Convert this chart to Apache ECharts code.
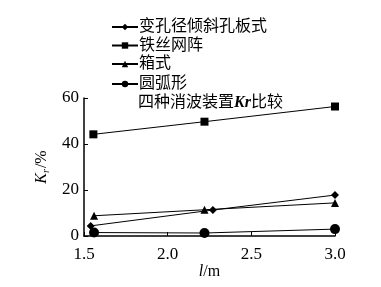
<!DOCTYPE html>
<html><head><meta charset="utf-8">
<script src="https://cdn.jsdelivr.net/npm/echarts@6/dist/echarts.min.js"></script>
<style>html,body{margin:0;padding:0;background:#fff}#c{width:381px;height:287px}</style>
</head><body><div id="c"></div>
<script>
const seriesNames = ['变孔径倾斜孔板式', '铁丝网阵', '箱式', '圆弧形'];
const xTicks = [1.5, 2.0, 2.5, 3.0];
const yTicks = [0, 20, 40, 60];
const diamondData = [[1.54, 4.4], [2.27, 11.3], [3.0, 17.8]];
const squareData = [[1.556, 44.2], [2.22, 49.7], [3.0, 56.3]];
const triangleData = [[1.56, 8.8], [2.22, 11.4], [3.0, 14.4]];
const circleData = [[1.56, 1.5], [2.22, 1.3], [3.0, 3.0]];

const FONT = "'Liberation Serif', 'Noto Sans CJK SC', serif";
const chart = echarts.init(document.getElementById('c'));
function mk(name, data, symbol, size) {
  return {
    name, type: 'line', data, symbol, symbolSize: size,
    lineStyle: { color: '#000', width: 1 },
    itemStyle: { color: '#000' },
    emphasis: { disabled: true }, animation: false
  };
}
const legendTops = [14, 32.5, 51, 71];
chart.setOption({
  animation: false,
  backgroundColor: '#fff',
  textStyle: { fontFamily: FONT, color: '#000' },
  title: {
    text: '四种消波装置{i|Kr}比较',
    left: 133, top: 90,
    textStyle: {
      fontFamily: FONT, fontSize: 16, fontWeight: 'normal', color: '#000',
      rich: { i: { fontFamily: FONT, fontSize: 16, fontStyle: 'italic', fontWeight: 'bold', color: '#000' } }
    }
  },
  legend: seriesNames.map((n, i) => ({
    orient: 'vertical', left: 106, top: legendTops[i],
    itemWidth: 26, itemHeight: 8,
    textStyle: { fontFamily: FONT, fontSize: 16, color: '#000', padding: [0, 0, 0, -4] },
    data: [n]
  })),
  grid: { left: 84, right: 46, top: 98, bottom: 51 },
  xAxis: {
    type: 'value', min: xTicks[0], max: xTicks[xTicks.length - 1], interval: 0.5,
    name: '{i|l}/m', nameLocation: 'middle', nameGap: 23,
    nameTextStyle: { fontFamily: FONT, fontSize: 16, color: '#000', rich: { i: { fontFamily: FONT, fontSize: 16, fontStyle: 'italic', color: '#000' } } },
    axisLine: { lineStyle: { color: '#000', width: 1.5 } },
    axisTick: { inside: true, length: 4, lineStyle: { color: '#000' } },
    axisLabel: { fontFamily: FONT, fontSize: 17, color: '#000', margin: 10, formatter: v => v.toFixed(1) },
    splitLine: { show: false }
  },
  yAxis: {
    type: 'value', min: yTicks[0], max: yTicks[yTicks.length - 1], interval: 20,
    name: '{i|K}{s|r}/%', nameLocation: 'middle', nameGap: 25, nameRotate: 90,
    nameTextStyle: { fontFamily: FONT, fontSize: 16, color: '#000', rich: {
      i: { fontFamily: FONT, fontSize: 16, fontStyle: 'italic', color: '#000' },
      s: { fontFamily: FONT, fontSize: 10, fontStyle: 'italic', color: '#000', verticalAlign: 'bottom', padding: [8, 1, 0, 0] } } },
    axisLine: { show: true, lineStyle: { color: '#000', width: 1.5 } },
    axisTick: { show: true, inside: true, length: 4, lineStyle: { color: '#000' } },
    axisLabel: { fontFamily: FONT, fontSize: 17, color: '#000', margin: 5 },
    splitLine: { show: false }
  },
  series: [
    mk(seriesNames[0], diamondData, 'diamond', 8),
    mk(seriesNames[1], squareData, 'rect', 8),
    mk(seriesNames[2], triangleData, 'triangle', 8),
    mk(seriesNames[3], circleData, 'circle', 10)
  ]
});
</script></body></html>
